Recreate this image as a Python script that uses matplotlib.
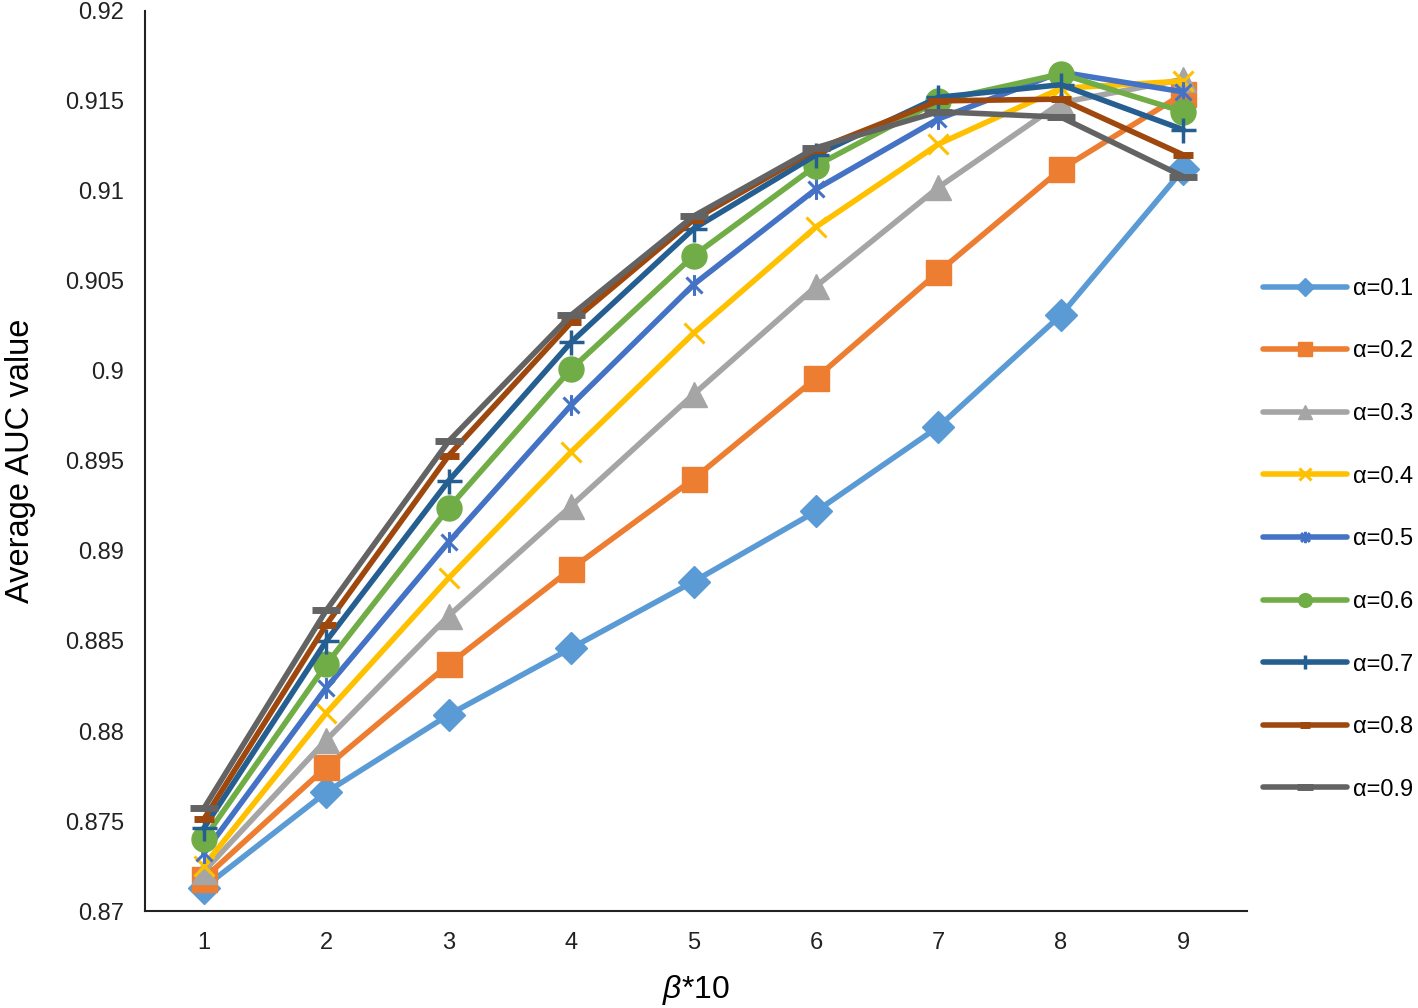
import numpy as np
import matplotlib
matplotlib.use("Agg")
import matplotlib.pyplot as plt
from matplotlib.path import Path

plt.rcParams["font.family"] = ["Liberation Sans", "DejaVu Sans"]
plt.rcParams["mathtext.fontset"] = "custom"
plt.rcParams["mathtext.it"] = "Liberation Sans:italic"
plt.rcParams["mathtext.rm"] = "Liberation Sans"

# --- data ---
beta = [1, 2, 3, 4, 5, 6, 7, 8, 9]
alphas = ["α=0.1", "α=0.2", "α=0.3", "α=0.4", "α=0.5", "α=0.6", "α=0.7", "α=0.8", "α=0.9"]

auc_01 = [0.8713, 0.8766, 0.8809, 0.8846, 0.8883, 0.8922, 0.8969, 0.9031, 0.9112]
auc_02 = [0.8718, 0.8780, 0.8837, 0.8890, 0.8940, 0.8996, 0.9055, 0.9112, 0.9154]
auc_03 = [0.8722, 0.8795, 0.8864, 0.8925, 0.8987, 0.9047, 0.9102, 0.9149, 0.9162]
auc_04 = [0.8725, 0.8810, 0.8885, 0.8955, 0.9021, 0.9080, 0.9126, 0.9157, 0.9161]
auc_05 = [0.8732, 0.8824, 0.8905, 0.8981, 0.9048, 0.9101, 0.9140, 0.9166, 0.9155]
auc_06 = [0.8740, 0.8837, 0.8924, 0.9001, 0.9064, 0.9114, 0.9150, 0.9165, 0.9144]
auc_07 = [0.8746, 0.8850, 0.8939, 0.9016, 0.9079, 0.9120, 0.9152, 0.9159, 0.9134]
auc_08 = [0.8751, 0.8859, 0.8953, 0.9027, 0.9084, 0.9123, 0.9150, 0.9151, 0.9120]
auc_09 = [0.8757, 0.8867, 0.8961, 0.9031, 0.9086, 0.9124, 0.9144, 0.9141, 0.9108]

series = [auc_01, auc_02, auc_03, auc_04, auc_05, auc_06, auc_07, auc_08, auc_09]
colors = ["#5B9BD5", "#ED7D31", "#A5A5A5", "#FFC000", "#4472C4",
          "#70AD47", "#255E91", "#9E480E", "#636363"]

# Excel-style "star": an x with a vertical bar
star = Path([(-1, -1), (1, 1), (-1, 1), (1, -1), (0, -1.3), (0, 1.3)],
            [Path.MOVETO, Path.LINETO] * 3)

# marker, size, edge width
styles = [
    ("D", 16, 1),
    ("s", 18, 1),
    ("^", 18, 1),
    ("x", 15, 2.2),
    (star, 15, 2.2),
    ("o", 18, 1),
    ("+", 18, 2.5),
    ("_", 14, 5),
    ("_", 20, 5),
]

fig = plt.figure(figsize=(14.18, 10.08), dpi=100)
ax = fig.add_axes([0.1023, 0.0962, 0.7771, 0.893])

handles = []
for vals, lab, col, (mk, ms, mew) in zip(series, alphas, colors, styles):
    h, = ax.plot(beta, vals, color=col, lw=4, marker=mk, markersize=ms,
                 markeredgewidth=mew, markerfacecolor=col, markeredgecolor=col,
                 label=lab, solid_capstyle="round", zorder=3)
    handles.append(h)

ax.set_xlim(0.52, 9.52)
ax.set_ylim(0.87, 0.92)
yt = np.round(np.arange(0.87, 0.92001, 0.005), 3)
ax.set_yticks(yt)
ax.set_yticklabels([f"{v:g}" for v in yt])
ax.set_xticks(beta)
ax.tick_params(length=0, labelsize=17, colors="#222222")
ax.tick_params(axis="y", pad=15)
ax.tick_params(axis="x", pad=15)

for s in ["top", "right"]:
    ax.spines[s].set_visible(False)
for s in ["left", "bottom"]:
    ax.spines[s].set_color("#222222")
    ax.spines[s].set_linewidth(1.5)

ax.set_ylabel("Average AUC value", fontsize=23.5, labelpad=21)
ax.set_xlabel(r"$\beta$*10", fontsize=23, labelpad=14)

fig.legend(handles=handles, loc="center left", bbox_to_anchor=(0.8907, 0.465),
           frameon=False, fontsize=17, handlelength=3.56, handletextpad=0.25,
           labelspacing=1.72, borderpad=0, borderaxespad=0, markerscale=0.55)

fig.savefig("out.png", dpi=100)
